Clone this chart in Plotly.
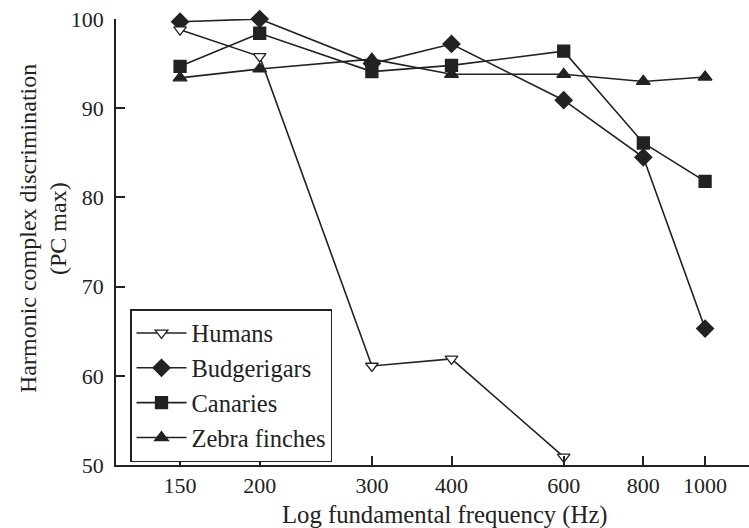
import plotly.graph_objects as go
import math

freqs = [150, 200, 300, 400, 600, 800, 1000]
humans_f = [150, 200, 300, 400, 600]
humans = [98.8, 95.8, 61.1, 61.9, 50.9]
budgerigars = [99.7, 100.0, 95.0, 97.2, 90.9, 84.5, 65.3]
canaries = [94.7, 98.4, 94.1, 94.8, 96.4, 86.1, 81.8]
zebra = [93.4, 94.4, 95.5, 93.8, 93.8, 93.0, 93.5]
xticks = [150, 200, 300, 400, 600, 800, 1000]
yticks = [50, 60, 70, 80, 90, 100]
ytitle_lines = ["Harmonic complex discrimination", "(PC max)"]
xtitle = "Log fundamental frequency (Hz)"

INK = "#222222"
FONT = "Liberation Serif, Times New Roman, serif"
L, T, W, H = 116, 19, 633, 446

fig = go.Figure()

def add(name, x, y, symbol, size, fill):
    fig.add_trace(go.Scatter(
        x=x, y=y, name=name, mode="lines+markers",
        line=dict(color=INK, width=1.6),
        marker=dict(symbol=symbol, size=size, color=fill,
                    line=dict(color=INK, width=1.3)),
        cliponaxis=False,
    ))

add("Zebra finches", freqs, zebra, "triangle-up", 12, INK)
add("Canaries", freqs, canaries, "square", 12, INK)
add("Budgerigars", freqs, budgerigars, "diamond", 13, INK)
add("Humans", humans_f, humans, "triangle-down", 11, "white")

fig.update_layout(
    width=749, height=528,
    margin=dict(l=L, r=0, t=T, b=63),
    paper_bgcolor="white", plot_bgcolor="white",
    font=dict(family=FONT, size=22, color=INK),
    showlegend=True,
    legend=dict(
        x=(130 - L) / W, y=(T + H - 309) / H, xanchor="left", yanchor="top",
        bordercolor=INK, borderwidth=1.5, bgcolor="white",
        traceorder="reversed", itemwidth=50,
        font=dict(family=FONT, size=24.5, color=INK),
        tracegroupgap=0,
    ),
    xaxis=dict(
        type="log", range=[math.log10(119), math.log10(1172)],
        tickvals=xticks, ticktext=[str(v) for v in xticks],
        ticks="inside", ticklen=9, tickwidth=1.5, tickcolor=INK,
        showline=True, linecolor=INK, linewidth=1.5,
        showgrid=False, zeroline=False,
        tickfont=dict(family=FONT, size=22, color=INK),
    ),
    yaxis=dict(
        range=[50, 100],
        tickvals=yticks,
        ticks="inside", ticklen=9, tickwidth=1.5, tickcolor=INK,
        showline=True, linecolor=INK, linewidth=1.5,
        showgrid=False, zeroline=False,
        ticklabelstandoff=6,
        tickfont=dict(family=FONT, size=22, color=INK),
    ),
)

for txt, px in zip(ytitle_lines, [28, 58]):
    fig.add_annotation(
        text=txt, xref="paper", yref="paper",
        x=(px - L) / W, y=(T + H - 229) / H,
        xanchor="center", yanchor="middle", textangle=-90,
        showarrow=False, font=dict(family=FONT, size=24, color=INK),
    )

fig.add_annotation(
    text=xtitle, xref="paper", yref="paper",
    x=(445 - L) / W, y=(T + H - 515) / H,
    xanchor="center", yanchor="middle",
    showarrow=False, font=dict(family=FONT, size=24.7, color=INK),
)

fig.write_html("out.html")
